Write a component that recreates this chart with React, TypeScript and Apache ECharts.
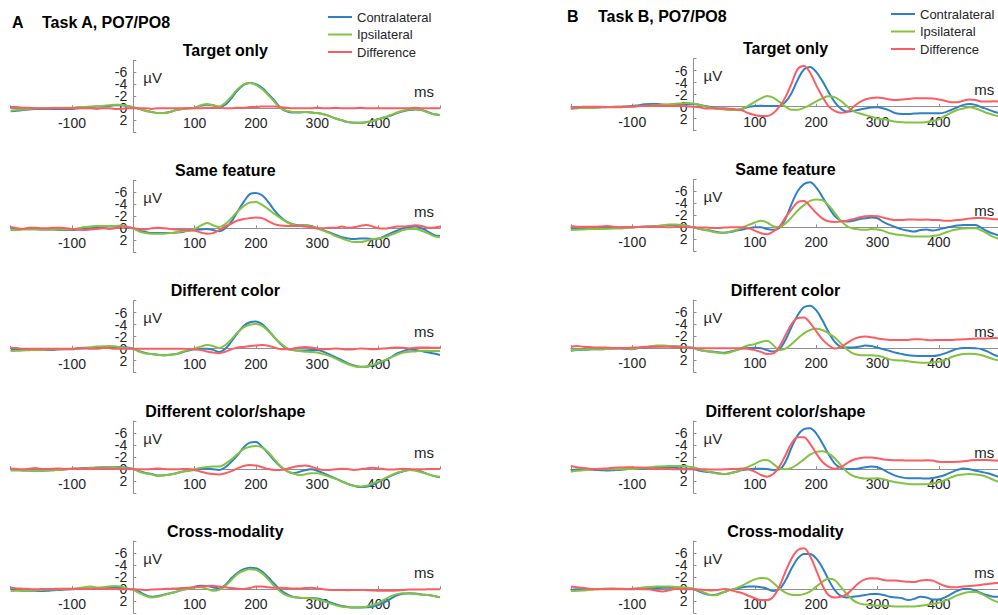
import React, { useEffect, useRef } from "react";
import * as echarts from "echarts";

// ---------- data (µV, sampled every 10 ms from -200 to 500 ms) ----------
const TIMES: number[] = Array.from({ length: 71 }, (_, i) => -200 + 10 * i);

const TASKS = ["Task A, PO7/PO8", "Task B, PO7/PO8"];
const TASK_LETTERS = ["A", "B"];
const CONDITIONS = ["Target only", "Same feature", "Different color", "Different color/shape", "Cross-modality"];
const SERIES_NAMES = ["Contralateral", "Ipsilateral", "Difference"];
const X_TICK_LABELS = [-100, 100, 200, 300, 400];
const Y_TICK_LABELS = [-6, -4, -2, 0, 2];

// Task A
const aTargetContra = [0.5,0.4,0.3,0.2,0.1,0.1,0.1,0.1,0.1,0.1,0.1,
  0.0,-0.1,-0.2,-0.3,-0.3,-0.4,-0.5,-0.5,-0.4,-0.2,
  0.1,0.4,0.6,0.8,0.8,0.6,0.3,0.1,0.0,-0.1,
  -0.4,-0.6,-0.5,-0.2,-0.6,-1.7,-3.0,-3.9,-4.2,-4.0,
  -3.4,-2.4,-1.3,-0.1,0.5,0.7,0.7,0.6,0.7,0.8,
  1.0,1.3,1.7,2.0,2.3,2.4,2.4,2.3,2.1,1.8,
  1.5,1.2,0.8,0.5,0.3,0.2,0.3,0.6,1.0,1.1];
const aTargetIpsi = [0.4,0.3,0.2,0.1,0.0,0.0,0.0,-0.1,-0.1,-0.1,-0.1,
  -0.2,-0.2,-0.3,-0.3,-0.4,-0.5,-0.6,-0.6,-0.4,-0.2,
  0.1,0.4,0.6,0.8,0.8,0.6,0.3,0.1,0.0,-0.1,
  -0.5,-0.7,-0.5,-0.3,-0.9,-2.0,-3.2,-4.0,-4.2,-3.9,
  -3.2,-2.2,-1.1,0.0,0.4,0.6,0.6,0.6,0.7,0.8,
  1.0,1.3,1.7,2.0,2.3,2.4,2.4,2.3,2.1,1.8,
  1.5,1.1,0.7,0.4,0.2,0.1,0.3,0.7,1.0,1.1];
const aTargetDiff = [-0.2,-0.2,-0.1,-0.1,0.0,0.0,0.0,0.0,0.0,0.0,0.0,
  0.0,0.0,0.0,0.1,0.0,0.0,0.1,0.1,0.0,0.0,
  0.0,0.0,0.1,0.0,0.0,0.0,0.0,0.0,0.0,0.0,
  0.0,-0.1,-0.1,-0.1,0.0,0.0,-0.1,-0.1,-0.2,-0.2,
  -0.3,-0.3,-0.3,-0.2,-0.1,0.0,0.0,0.0,0.0,-0.1,
  0.0,0.0,-0.1,0.0,0.0,0.0,-0.1,0.0,0.0,0.0,
  0.0,0.0,0.0,0.0,0.0,-0.1,0.0,0.0,0.0,0.0];

const aSameContra = [0.2,0.2,0.1,0.1,0.1,0.2,0.2,0.2,0.3,0.3,0.3,
  0.2,0.1,0.0,-0.1,-0.2,-0.3,-0.3,-0.4,-0.2,0.0,
  0.4,0.6,0.8,0.8,0.8,0.8,0.7,0.6,0.4,0.3,
  0.2,0.1,0.3,0.5,0.0,-1.1,-2.8,-4.4,-5.7,-5.9,
  -5.5,-4.4,-3.0,-1.9,-1.1,-0.7,-0.5,-0.5,-0.4,0.0,
  0.3,0.7,1.1,1.5,1.7,1.8,1.7,1.7,1.8,1.7,
  1.3,0.8,0.4,0.0,-0.2,-0.3,0.0,0.5,1.1,1.3];
const aSameIpsi = [0.3,0.3,0.2,0.2,0.2,0.2,0.2,0.2,0.2,0.2,0.2,
  0.0,-0.2,-0.3,-0.4,-0.4,-0.4,-0.4,-0.45,-0.3,0.0,
  0.55,0.8,0.9,0.9,0.9,0.8,0.7,0.5,0.4,0.1,
  -0.45,-0.9,-0.5,-0.2,-0.7,-1.7,-2.8,-3.7,-4.3,-4.4,
  -3.9,-3.2,-2.4,-1.7,-1.05,-0.6,-0.45,-0.5,-0.3,0.0,
  0.4,0.8,1.3,1.7,2.05,2.3,2.3,2.1,1.8,1.7,
  1.5,1.1,0.7,0.3,0.1,0.1,0.4,0.8,1.3,1.5];
const aSameDiff = [-0.2,0.0,0.1,-0.1,-0.1,0.0,0.0,-0.1,-0.1,0.0,0.1,
  0.2,0.3,0.2,0.1,0.0,0.1,0.0,-0.3,-0.2,0.0,
  0.1,0.2,0.0,-0.1,0.0,0.1,0.2,0.3,0.3,0.4,
  0.7,0.9,0.8,0.3,-0.3,-0.8,-1.3,-1.55,-1.7,-1.8,
  -1.7,-1.2,-0.7,-0.45,-0.4,-0.4,-0.4,-0.3,-0.2,0.0,
  0.0,-0.1,-0.1,-0.3,-0.1,-0.2,-0.4,-0.55,-0.3,0.0,
  0.05,-0.1,-0.3,-0.3,-0.4,-0.5,-0.4,-0.1,-0.1,-0.3];

const aColorContra = [0.2,0.2,0.2,0.2,0.2,0.2,0.2,0.2,0.1,0.1,0.1,
  0.0,-0.05,-0.1,-0.2,-0.2,-0.3,-0.3,-0.3,-0.2,0.0,
  0.4,0.7,0.9,1.0,1.1,1.0,0.9,0.6,0.3,0.1,
  0.0,0.0,0.2,0.55,0.0,-1.2,-2.6,-3.8,-4.4,-4.55,
  -4.1,-3.1,-1.9,-0.8,0.0,0.2,0.3,0.3,0.2,0.2,
  0.5,0.95,1.45,1.9,2.45,2.8,3.0,3.0,2.8,2.45,
  2.0,1.45,0.8,0.4,0.15,0.2,0.4,0.6,0.8,1.05];
const aColorIpsi = [0.4,0.35,0.3,0.25,0.2,0.2,0.15,0.1,0.1,0.05,0.05,
  -0.05,-0.15,-0.25,-0.35,-0.4,-0.45,-0.4,-0.2,-0.1,0.0,
  0.5,0.8,0.9,1.0,1.1,1.0,0.9,0.5,0.2,-0.05,
  -0.35,-0.6,-0.45,-0.1,-0.6,-1.55,-2.7,-3.55,-4.0,-4.1,
  -3.8,-2.95,-1.9,-0.9,-0.15,0.2,0.4,0.5,0.55,0.65,
  0.9,1.2,1.65,2.15,2.6,2.9,3.05,2.95,2.7,2.3,
  1.9,1.45,1.0,0.65,0.5,0.45,0.35,0.35,0.4,0.4];
const aColorDiff = [-0.15,-0.1,0.0,0.0,0.0,0.0,0.0,0.0,0.0,0.0,0.0,
  -0.1,-0.1,0.0,0.0,-0.1,-0.1,0.0,0.0,0.0,0.0,
  0.0,0.0,0.0,0.0,0.0,0.0,0.0,0.0,0.05,0.1,
  0.2,0.45,0.65,0.75,0.5,0.1,-0.2,-0.3,-0.45,-0.55,
  -0.6,-0.5,-0.2,0.05,0.1,0.0,-0.2,-0.3,-0.2,0.0,
  0.1,0.05,-0.05,0.05,0.15,0.1,-0.05,0.0,0.1,0.05,
  -0.05,-0.15,-0.2,-0.15,-0.05,-0.15,-0.2,-0.2,-0.15,-0.15];

const aShapeContra = [0.2,0.2,0.25,0.25,0.3,0.3,0.25,0.2,0.15,0.05,-0.05,
  -0.1,-0.15,-0.2,-0.25,-0.3,-0.3,-0.3,-0.35,-0.2,0.0,
  0.35,0.65,0.85,1.1,1.05,0.9,0.7,0.45,0.3,0.15,
  0.0,-0.05,0.05,0.15,-0.3,-1.2,-2.3,-3.6,-4.4,-4.5,
  -3.7,-2.6,-1.4,-0.4,0.3,0.7,0.5,0.2,0.05,0.3,
  0.7,1.15,1.6,2.05,2.5,2.8,3.0,2.95,2.6,2.15,
  1.65,1.15,0.7,0.4,0.15,0.15,0.45,0.85,1.15,1.4];
const aShapeIpsi = [0.2,0.2,0.25,0.25,0.3,0.3,0.25,0.2,0.15,0.05,0.0,
  -0.05,-0.1,-0.15,-0.2,-0.25,-0.25,-0.25,-0.25,-0.1,0.0,
  0.45,0.75,0.9,1.15,1.05,0.9,0.7,0.45,0.3,0.05,
  -0.2,-0.35,-0.4,-0.4,-0.85,-1.6,-2.5,-3.3,-3.7,-3.85,
  -3.6,-2.8,-1.6,-0.5,0.3,0.7,1.0,0.9,0.7,0.7,
  0.95,1.3,1.65,2.1,2.5,2.8,2.9,2.8,2.4,2.0,
  1.55,1.05,0.6,0.35,0.15,0.3,0.55,0.85,1.15,1.3];
const aShapeDiff = [-0.1,0.0,0.05,-0.05,-0.15,0.0,0.0,-0.05,-0.1,0.0,-0.05,
  0.0,0.0,0.0,-0.1,-0.1,-0.05,0.0,-0.05,0.0,0.0,
  0.05,0.05,0.0,-0.1,0.0,0.05,0.05,0.0,0.0,0.15,
  0.45,0.7,0.85,0.9,0.7,0.35,-0.1,-0.5,-0.65,-0.6,
  -0.3,0.0,0.15,0.15,0.0,-0.3,-0.5,-0.6,-0.4,-0.05,
  0.15,0.15,0.05,-0.05,0.0,0.15,0.05,-0.1,-0.2,-0.1,
  0.05,0.1,0.05,-0.05,0.0,0.05,0.05,0.0,0.0,0.0];

const aCrossContra = [0.05,0.15,0.3,0.3,0.3,0.35,0.3,0.2,0.15,0.1,0.05,
  -0.05,-0.1,-0.1,-0.05,-0.15,-0.3,-0.2,-0.15,0.0,0.05,
  0.45,1.0,1.3,1.15,0.95,0.7,0.45,0.15,-0.05,-0.4,
  -0.55,-0.5,-0.3,-0.1,-0.65,-1.8,-2.7,-3.3,-3.55,-3.45,
  -2.9,-1.95,-0.85,0.15,0.85,1.3,1.45,1.5,1.5,1.6,
  1.85,2.2,2.55,2.85,3.0,3.1,3.1,3.05,2.95,2.65,
  2.2,1.6,1.05,0.8,0.7,0.75,0.9,1.0,1.15,1.4];
const aCrossIpsi = [0.35,0.3,0.3,0.25,0.2,0.15,0.1,0.1,0.05,0.0,0.0,
  -0.15,-0.3,-0.4,-0.25,-0.3,-0.4,-0.5,-0.4,-0.1,0.15,
  0.7,1.15,1.4,1.3,1.0,0.7,0.45,0.15,-0.05,-0.3,
  -0.3,-0.05,0.3,0.15,-0.5,-1.5,-2.5,-3.05,-3.3,-3.2,
  -2.6,-1.6,-0.5,0.45,1.05,1.35,1.45,1.5,1.55,1.7,
  2.0,2.4,2.7,2.95,3.05,3.1,3.05,2.95,2.65,2.3,
  1.75,1.2,0.85,0.7,0.75,0.85,0.95,1.0,1.15,1.4];
const aCrossDiff = [-0.2,-0.1,-0.05,0.0,0.05,0.0,0.0,0.0,-0.05,-0.05,-0.05,
  0.0,0.0,0.0,-0.05,-0.05,0.0,0.0,0.05,0.05,0.05,
  0.1,0.15,0.1,0.05,0.0,-0.05,-0.1,-0.15,-0.2,-0.3,
  -0.4,-0.5,-0.55,-0.4,-0.3,-0.15,-0.05,0.0,-0.15,-0.4,
  -0.4,-0.3,-0.2,-0.2,-0.15,-0.1,-0.1,-0.15,-0.2,-0.1,
  0.05,0.15,0.15,0.15,0.2,0.15,0.15,0.2,0.25,0.3,
  0.3,0.3,0.25,0.15,0.1,0.1,0.1,0.05,0.05,0.05];

// Task B
const bTargetContra = [0.3,0.25,0.2,0.2,0.15,0.1,0.05,0.0,0.0,-0.05,-0.1,
  -0.25,-0.4,-0.45,-0.45,-0.35,-0.3,-0.3,-0.35,-0.4,-0.45,
  -0.3,-0.1,0.1,0.3,0.3,0.4,0.55,0.35,0.0,-0.1,
  -0.15,-0.1,-0.1,-0.1,-0.8,-2.3,-4.5,-6.2,-6.6,-5.8,
  -4.3,-2.5,-0.8,0.3,0.8,0.7,0.5,0.3,0.15,0.1,
  0.3,0.65,1.1,1.2,1.2,1.15,1.1,1.1,1.1,1.1,
  0.95,0.55,0.1,-0.3,-0.45,-0.3,0.1,0.45,0.85,1.1];
const bTargetIpsi = [0.3,0.25,0.2,0.2,0.15,0.1,0.05,0.05,0.0,0.0,0.0,
  -0.1,-0.15,-0.2,-0.25,-0.3,-0.4,-0.5,-0.55,-0.6,-0.55,
  -0.3,0.0,0.2,0.35,0.45,0.55,0.55,0.3,-0.2,-0.8,
  -1.4,-1.8,-1.5,-0.8,0.0,0.5,0.5,0.2,-0.3,-0.9,
  -1.4,-1.75,-1.6,-1.0,-0.1,0.7,1.1,1.4,1.65,1.95,
  2.1,2.3,2.5,2.6,2.65,2.65,2.65,2.55,2.4,2.1,
  1.55,1.0,0.55,0.3,0.1,0.3,0.7,1.1,1.4,1.65];
const bTargetDiff = [0.3,0.1,0.0,0.0,0.0,0.0,0.1,0.1,0.1,0.0,0.0,
  -0.1,-0.1,-0.15,-0.2,-0.15,-0.1,-0.1,-0.1,-0.05,0.0,
  0.1,0.3,0.3,0.3,0.3,0.35,0.45,0.65,1.1,1.4,
  1.55,1.55,1.1,0.0,-1.6,-3.9,-6.3,-6.8,-5.7,-3.6,
  -1.7,-0.1,0.7,1.0,0.9,0.1,-0.7,-1.2,-1.45,-1.55,
  -1.4,-1.2,-1.1,-1.2,-1.3,-1.4,-1.4,-1.4,-1.35,-1.2,
  -1.0,-0.75,-0.75,-1.0,-1.2,-1.1,-0.85,-0.85,-0.9,-0.85];

const bSameContra = [0.3,0.3,0.25,0.25,0.2,0.2,0.15,0.1,0.05,0.0,0.0,
  -0.05,-0.1,-0.15,-0.2,-0.3,-0.4,-0.4,-0.35,-0.2,0.0,
  0.3,0.45,0.6,0.8,0.9,0.8,0.55,0.35,0.15,0.0,
  0.0,0.3,0.4,0.1,-1.4,-3.9,-6.05,-7.2,-7.5,-6.65,
  -5.1,-3.45,-1.9,-1.1,-0.95,-1.1,-1.35,-1.5,-1.65,-1.5,
  -0.85,-0.4,0.0,0.35,0.55,0.7,0.45,0.35,0.55,0.35,
  0.1,-0.1,-0.3,-0.4,-0.4,-0.4,0.15,0.7,1.1,1.45];
const bSameIpsi = [0.45,0.4,0.35,0.3,0.3,0.3,0.25,0.2,0.2,0.1,0.05,
  -0.05,-0.1,-0.15,-0.2,-0.3,-0.45,-0.45,-0.4,-0.2,0.0,
  0.3,0.45,0.7,0.9,0.9,0.7,0.45,0.05,-0.4,-0.8,
  -1.1,-0.8,-0.2,0.0,-0.65,-1.65,-2.8,-3.7,-4.4,-4.65,
  -4.55,-3.7,-2.45,-1.1,-0.2,0.2,0.35,0.4,0.3,0.35,
  0.6,1.0,1.2,1.3,1.45,1.55,1.55,1.55,1.45,1.3,
  0.9,0.55,0.35,0.2,0.15,0.15,0.55,1.1,1.65,2.0];
const bSameDiff = [-0.2,-0.1,-0.1,-0.1,-0.1,-0.15,-0.2,-0.1,0.0,0.0,0.0,
  -0.05,-0.1,-0.1,-0.1,-0.05,0.0,-0.05,-0.1,-0.05,0.0,
  0.05,0.05,0.1,0.1,0.05,0.0,0.0,0.0,0.15,0.55,
  1.0,1.15,0.7,-0.1,-1.65,-3.0,-4.2,-4.4,-3.5,-2.4,
  -1.5,-1.0,-0.9,-0.95,-1.1,-1.35,-1.65,-1.85,-1.9,-1.85,
  -1.6,-1.35,-1.2,-1.2,-1.3,-1.3,-1.25,-1.3,-1.2,-1.2,
  -1.1,-1.1,-1.2,-1.3,-1.45,-1.55,-1.55,-1.45,-1.35,-1.35];

const bColorContra = [0.45,0.35,0.3,0.25,0.2,0.2,0.15,0.1,0.1,0.15,0.2,
  0.0,-0.1,-0.2,-0.3,-0.35,-0.35,-0.3,-0.2,-0.1,0.0,
  0.35,0.5,0.6,0.7,0.8,0.6,0.35,0.1,0.0,-0.05,
  0.05,0.35,0.6,0.2,-1.35,-3.55,-5.5,-6.8,-7.05,-6.3,
  -4.65,-2.7,-1.05,-0.2,-0.1,-0.1,-0.2,-0.4,-0.35,-0.05,
  0.2,0.5,0.8,1.0,1.2,1.3,1.35,1.35,1.35,1.2,
  0.9,0.5,0.15,0.0,0.0,0.05,0.2,0.6,1.15,1.45];
const bColorIpsi = [0.35,0.3,0.25,0.2,0.2,0.2,0.15,0.1,0.05,0.1,0.15,
  0.0,-0.2,-0.3,-0.4,-0.4,-0.35,-0.3,-0.2,-0.1,0.0,
  0.35,0.5,0.65,0.8,0.9,0.7,0.35,-0.1,-0.45,-0.65,
  -1.0,-1.2,-0.5,0.35,0.1,-0.65,-1.6,-2.45,-3.0,-3.2,
  -3.0,-2.45,-1.8,-0.8,0.2,0.9,1.15,1.2,1.2,1.3,
  1.55,1.9,2.05,2.1,2.2,2.35,2.45,2.45,2.4,2.3,
  2.0,1.55,1.2,1.0,0.95,1.0,1.2,1.55,1.9,2.1];
const bColorDiff = [-0.2,-0.35,-0.2,-0.15,-0.1,-0.1,-0.05,0.0,0.0,0.0,-0.05,
  -0.1,-0.15,-0.2,-0.2,-0.2,-0.2,-0.15,-0.1,-0.05,0.0,
  0.05,0.05,0.05,0.05,0.05,0.05,0.05,0.05,0.15,0.35,
  0.65,1.0,0.9,-0.2,-2.15,-4.0,-5.0,-5.1,-4.2,-2.8,
  -1.45,-0.5,0.1,-0.2,-0.8,-1.45,-1.8,-1.9,-1.8,-1.6,
  -1.45,-1.35,-1.35,-1.35,-1.35,-1.45,-1.45,-1.35,-1.3,-1.35,
  -1.35,-1.35,-1.4,-1.45,-1.5,-1.55,-1.6,-1.6,-1.65,-1.65];

const bShapeContra = [0.15,0.1,0.05,0.1,0.15,0.2,0.25,0.2,0.15,0.05,-0.05,
  -0.1,-0.1,-0.2,-0.3,-0.3,-0.25,-0.2,-0.1,0.0,0.05,
  0.3,0.45,0.55,0.7,0.85,0.7,0.45,0.15,0.05,-0.05,
  -0.05,0.0,0.15,0.05,-1.2,-3.6,-5.65,-6.65,-6.8,-5.95,
  -4.3,-2.5,-0.95,-0.2,0.0,0.0,-0.1,-0.3,-0.4,-0.3,
  0.15,0.7,1.15,1.4,1.55,1.55,1.55,1.6,1.5,1.3,
  1.0,0.55,0.15,-0.1,0.05,0.3,0.5,0.7,1.05,1.4];
const bShapeIpsi = [0.45,0.3,0.2,0.1,0.05,0.0,0.05,0.05,0.05,0.0,0.0,
  -0.1,-0.2,-0.3,-0.4,-0.45,-0.5,-0.5,-0.5,-0.4,-0.3,
  0.05,0.35,0.6,0.8,0.85,0.7,0.45,0.05,-0.4,-0.85,
  -1.4,-1.5,-0.85,-0.1,0.05,-0.2,-0.8,-1.6,-2.4,-2.85,
  -2.95,-2.6,-1.8,-0.65,0.45,1.15,1.45,1.6,1.6,1.55,
  1.7,2.0,2.2,2.35,2.5,2.55,2.55,2.55,2.4,2.2,
  1.85,1.4,1.05,0.9,0.85,0.9,1.05,1.4,1.85,2.2];
const bShapeDiff = [-0.5,-0.3,-0.15,-0.05,0.0,-0.05,-0.1,-0.2,-0.25,-0.3,-0.3,
  -0.25,-0.2,-0.1,-0.05,0.0,0.0,0.05,0.05,0.05,0.05,
  0.05,0.05,0.1,0.1,0.05,0.0,0.0,-0.1,0.05,0.45,
  1.0,1.3,0.85,-0.4,-2.3,-4.3,-5.3,-5.3,-4.2,-2.6,
  -1.2,-0.4,-0.05,-0.3,-0.95,-1.5,-1.8,-1.9,-1.9,-1.8,
  -1.6,-1.5,-1.45,-1.45,-1.4,-1.4,-1.4,-1.45,-1.4,-1.2,
  -1.15,-1.15,-1.2,-1.3,-1.4,-1.5,-1.5,-1.5,-1.4,-1.4];

const bCrossContra = [0.15,0.05,0.05,0.0,0.0,0.0,-0.05,-0.05,0.0,0.05,0.05,
  0.0,-0.05,-0.1,-0.15,-0.2,-0.2,-0.2,-0.15,-0.05,0.05,
  0.45,0.85,1.0,0.85,0.5,0.15,-0.05,-0.3,-0.4,-0.4,
  -0.3,-0.05,0.35,0.05,-1.4,-3.45,-5.1,-5.85,-5.85,-5.1,
  -3.6,-1.6,0.15,1.15,1.4,1.3,1.15,1.0,0.85,0.85,
  1.0,1.3,1.4,1.55,1.85,1.65,1.3,1.4,1.75,1.75,
  1.4,0.85,0.3,0.0,0.0,0.3,0.7,1.05,1.3,1.3];
const bCrossIpsi = [0.35,0.3,0.25,0.15,0.1,0.05,0.05,0.05,0.05,0.0,-0.05,
  -0.15,-0.3,-0.35,-0.4,-0.4,-0.4,-0.35,-0.3,-0.2,-0.05,
  0.3,0.7,1.05,0.95,0.5,0.15,-0.15,-0.6,-1.15,-1.6,
  -1.85,-1.75,-1.05,-0.1,0.6,0.95,1.0,0.85,0.45,-0.4,
  -1.2,-1.7,-1.5,-0.4,0.85,1.85,2.4,2.6,2.7,2.75,
  2.8,2.85,2.9,2.9,2.9,2.9,2.8,2.65,2.5,2.3,
  1.95,1.55,1.05,0.7,0.5,0.5,0.85,1.4,1.95,2.3];
const bCrossDiff = [-0.4,-0.3,-0.2,-0.05,0.0,0.0,0.0,-0.05,-0.05,0.0,0.0,
  0.0,0.05,0.1,0.3,0.4,0.2,0.0,0.0,0.05,0.05,
  0.1,0.15,0.25,0.15,0.0,0.15,0.45,0.7,1.15,1.55,
  1.85,1.85,1.3,-0.4,-2.9,-5.1,-6.5,-6.8,-5.5,-3.15,
  -0.65,1.0,1.4,1.3,0.85,-0.1,-1.05,-1.6,-1.8,-1.75,
  -1.5,-1.4,-1.4,-1.3,-1.2,-1.15,-1.4,-1.5,-1.4,-0.95,
  -0.5,-0.3,-0.3,-0.4,-0.5,-0.6,-0.7,-0.85,-0.95,-1.05];

const PANEL_DATA: number[][][][] = [
  [
    [aTargetContra, aTargetIpsi, aTargetDiff],
    [aSameContra, aSameIpsi, aSameDiff],
    [aColorContra, aColorIpsi, aColorDiff],
    [aShapeContra, aShapeIpsi, aShapeDiff],
    [aCrossContra, aCrossIpsi, aCrossDiff],
  ],
  [
    [bTargetContra, bTargetIpsi, bTargetDiff],
    [bSameContra, bSameIpsi, bSameDiff],
    [bColorContra, bColorIpsi, bColorDiff],
    [bShapeContra, bShapeIpsi, bShapeDiff],
    [bCrossContra, bCrossIpsi, bCrossDiff],
  ],
];

// ---------- layout / style ----------
const COLORS = ["#2f80c4", "#82c341", "#fd5c63"];
const FONT = "'Liberation Sans', Arial, Helvetica, sans-serif";
const AXIS_GRAY = "#8f8f8f";
const TEXT_DARK = "#262626";
const ZERO_X = [133.3, 693.5];
const ZERO_Y = [
  [108.3, 228.3, 348.7, 469, 589],
  [106.7, 227.3, 348, 469, 589],
];
const HEADER_Y = [22, 16];
const LETTER_X = [12, 567];
const HEADER_X = [42, 598];
const LEGEND_POS = [
  { left: 328, top: 10 },
  { left: 891, top: 7 },
];
const PX_MS = 0.6133;
const PX_UV = 6;
const T_MIN = -200;
const T_MAX = 500;
const V_MIN = -8;
const V_MAX = 4;

function buildOption() {
  const grid: any[] = [];
  const xAxis: any[] = [];
  const yAxis: any[] = [];
  const series: any[] = [];
  const graphic: any[] = [];

  for (let t = 0; t < 2; t++) {
    graphic.push({
      type: "text",
      x: LETTER_X[t],
      y: HEADER_Y[t],
      style: { text: TASK_LETTERS[t], font: `bold 16px ${FONT}`, fill: "#000", align: "left", verticalAlign: "middle" },
    });
    graphic.push({
      type: "text",
      x: HEADER_X[t],
      y: HEADER_Y[t],
      style: { text: TASKS[t], font: `bold 16px ${FONT}`, fill: "#000", align: "left", verticalAlign: "middle" },
    });
    for (let c = 0; c < 5; c++) {
      const k = t * 5 + c;
      const zx = ZERO_X[t];
      const zy = ZERO_Y[t][c];
      grid.push({
        left: zx + T_MIN * PX_MS,
        top: zy + V_MIN * PX_UV,
        width: (T_MAX - T_MIN) * PX_MS,
        height: (V_MAX - V_MIN) * PX_UV,
        containLabel: false,
        outerBoundsMode: "none",
      });
      // x axis drawn through y = 0, y axis through t = 0 (moved there with offsets)
      xAxis.push({
        gridIndex: k,
        type: "value",
        position: "bottom",
        offset: -(V_MAX * PX_UV),
        min: T_MIN,
        max: T_MAX,
        interval: 100,
        axisLine: { onZero: false, lineStyle: { color: AXIS_GRAY, width: 1 } },
        axisTick: { show: true, inside: true, length: 3, lineStyle: { color: AXIS_GRAY } },
        axisLabel: {
          formatter: (v: number) => (X_TICK_LABELS.includes(v) ? String(v) : ""),
          color: TEXT_DARK,
          fontSize: 14,
          fontFamily: FONT,
          margin: 8,
        },
        splitLine: { show: false },
      });
      yAxis.push({
        gridIndex: k,
        type: "value",
        position: "left",
        offset: T_MIN * PX_MS,
        inverse: true,
        min: V_MIN,
        max: V_MAX,
        interval: 2,
        axisLine: { onZero: false, lineStyle: { color: AXIS_GRAY, width: 1 } },
        axisTick: { show: true, inside: true, length: 3, lineStyle: { color: AXIS_GRAY } },
        axisLabel: {
          formatter: (v: number) => (Y_TICK_LABELS.includes(v) ? String(v) : ""),
          color: TEXT_DARK,
          fontSize: 14,
          fontFamily: FONT,
          margin: 6,
        },
        splitLine: { show: false },
      });
      PANEL_DATA[t][c].forEach((arr, s) => {
        series.push({
          type: "line",
          name: SERIES_NAMES[s],
          xAxisIndex: k,
          yAxisIndex: k,
          data: TIMES.map((tm, i) => [tm, arr[i]]),
          showSymbol: false,
          smooth: 0.35,
          silent: true,
          lineStyle: { width: 2, color: COLORS[s] },
          itemStyle: { color: COLORS[s] },
          z: 3 + s,
        });
      });
      graphic.push({
        type: "text",
        x: zx + 92,
        y: zy - 58,
        style: { text: CONDITIONS[c], font: `bold 16px ${FONT}`, fill: "#000", align: "center", verticalAlign: "middle" },
      });
      graphic.push({
        type: "text",
        x: zx + 10,
        y: zy - 31,
        style: { text: "µV", font: `15px ${FONT}`, fill: TEXT_DARK, align: "left", verticalAlign: "middle" },
      });
      graphic.push({
        type: "text",
        x: zx + T_MAX * PX_MS - 6,
        y: zy - 17,
        style: { text: "ms", font: `15px ${FONT}`, fill: TEXT_DARK, align: "right", verticalAlign: "middle" },
      });
    }
  }

  const legend = LEGEND_POS.map((p) => ({
    left: p.left,
    top: p.top,
    orient: "vertical",
    icon: "rect",
    itemWidth: 24,
    itemHeight: 2,
    itemGap: 3.5,
    padding: 0,
    selectedMode: false,
    data: SERIES_NAMES,
    textStyle: { fontSize: 13, color: TEXT_DARK, fontFamily: FONT, lineHeight: 14 },
  }));

  return {
    animation: false,
    backgroundColor: "#ffffff",
    grid,
    xAxis,
    yAxis,
    series,
    legend,
    graphic,
  };
}

export default function App() {
  const ref = useRef<HTMLDivElement>(null);
  useEffect(() => {
    if (!ref.current) return;
    const chart = echarts.init(ref.current, null, { renderer: "svg" });
    chart.setOption(buildOption() as any);
    return () => chart.dispose();
  }, []);
  return (
    <div
      ref={ref}
      style={{ position: "absolute", left: 0, top: 0, width: 998, height: 615 }}
    />
  );
}
